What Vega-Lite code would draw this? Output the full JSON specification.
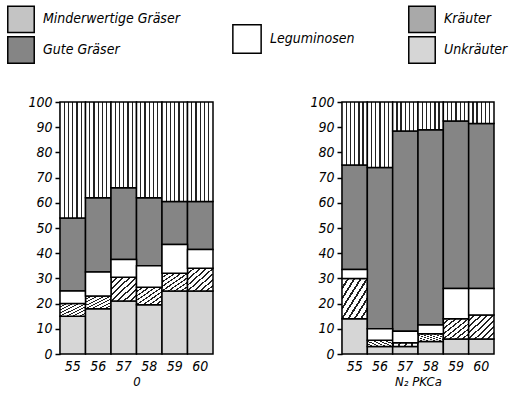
{
  "$schema": "https://vega.github.io/schema/vega-lite/v6.json",
  "background": "white",
  "padding": {"left": 7, "top": 5, "right": 5, "bottom": 5},
  "config": {
    "view": {"stroke": null},
    "font": "DejaVu Sans Condensed",
    "axis": {
      "labelFont": "DejaVu Sans Condensed",
      "labelFontStyle": "italic",
      "labelFontSize": 14,
      "labelColor": "black",
      "domainColor": "black",
      "domainWidth": 1.5,
      "tickColor": "black",
      "tickWidth": 1.5,
      "titleFont": "DejaVu Sans Condensed",
      "titleFontStyle": "italic",
      "titleFontWeight": "normal",
      "titleFontSize": 13,
      "titleColor": "black"
    },
    "legend": {
      "labelFont": "DejaVu Sans Condensed",
      "labelFontStyle": "italic",
      "labelFontSize": 14,
      "labelColor": "black",
      "labelLimit": 300
    }
  },
  "datasets": {
    "d": [
      {"treatment": "0", "year": "55", "category": "Unkräuter", "value": 15},
      {"treatment": "0", "year": "55", "category": "Kräuter", "value": 5},
      {"treatment": "0", "year": "55", "category": "Leguminosen", "value": 5},
      {"treatment": "0", "year": "55", "category": "Gute Gräser", "value": 29},
      {"treatment": "0", "year": "55", "category": "Minderwertige Gräser", "value": 46},
      {"treatment": "0", "year": "56", "category": "Unkräuter", "value": 18},
      {"treatment": "0", "year": "56", "category": "Kräuter", "value": 5},
      {"treatment": "0", "year": "56", "category": "Leguminosen", "value": 9.5},
      {"treatment": "0", "year": "56", "category": "Gute Gräser", "value": 29.5},
      {"treatment": "0", "year": "56", "category": "Minderwertige Gräser", "value": 38},
      {"treatment": "0", "year": "57", "category": "Unkräuter", "value": 21},
      {"treatment": "0", "year": "57", "category": "Kräuter", "value": 9.5},
      {"treatment": "0", "year": "57", "category": "Leguminosen", "value": 7},
      {"treatment": "0", "year": "57", "category": "Gute Gräser", "value": 28.5},
      {"treatment": "0", "year": "57", "category": "Minderwertige Gräser", "value": 34},
      {"treatment": "0", "year": "58", "category": "Unkräuter", "value": 19.5},
      {"treatment": "0", "year": "58", "category": "Kräuter", "value": 7},
      {"treatment": "0", "year": "58", "category": "Leguminosen", "value": 8.5},
      {"treatment": "0", "year": "58", "category": "Gute Gräser", "value": 27},
      {"treatment": "0", "year": "58", "category": "Minderwertige Gräser", "value": 38},
      {"treatment": "0", "year": "59", "category": "Unkräuter", "value": 25},
      {"treatment": "0", "year": "59", "category": "Kräuter", "value": 7},
      {"treatment": "0", "year": "59", "category": "Leguminosen", "value": 11.5},
      {"treatment": "0", "year": "59", "category": "Gute Gräser", "value": 17},
      {"treatment": "0", "year": "59", "category": "Minderwertige Gräser", "value": 39.5},
      {"treatment": "0", "year": "60", "category": "Unkräuter", "value": 25},
      {"treatment": "0", "year": "60", "category": "Kräuter", "value": 9},
      {"treatment": "0", "year": "60", "category": "Leguminosen", "value": 7.5},
      {"treatment": "0", "year": "60", "category": "Gute Gräser", "value": 19},
      {"treatment": "0", "year": "60", "category": "Minderwertige Gräser", "value": 39.5},
      {"treatment": "N", "year": "55", "category": "Unkräuter", "value": 14},
      {"treatment": "N", "year": "55", "category": "Kräuter", "value": 16},
      {"treatment": "N", "year": "55", "category": "Leguminosen", "value": 3.5},
      {"treatment": "N", "year": "55", "category": "Gute Gräser", "value": 41.5},
      {"treatment": "N", "year": "55", "category": "Minderwertige Gräser", "value": 25},
      {"treatment": "N", "year": "56", "category": "Unkräuter", "value": 3},
      {"treatment": "N", "year": "56", "category": "Kräuter", "value": 2.5},
      {"treatment": "N", "year": "56", "category": "Leguminosen", "value": 4.5},
      {"treatment": "N", "year": "56", "category": "Gute Gräser", "value": 64},
      {"treatment": "N", "year": "56", "category": "Minderwertige Gräser", "value": 26},
      {"treatment": "N", "year": "57", "category": "Unkräuter", "value": 3},
      {"treatment": "N", "year": "57", "category": "Kräuter", "value": 1.5},
      {"treatment": "N", "year": "57", "category": "Leguminosen", "value": 4.5},
      {"treatment": "N", "year": "57", "category": "Gute Gräser", "value": 79.5},
      {"treatment": "N", "year": "57", "category": "Minderwertige Gräser", "value": 11.5},
      {"treatment": "N", "year": "58", "category": "Unkräuter", "value": 5},
      {"treatment": "N", "year": "58", "category": "Kräuter", "value": 3},
      {"treatment": "N", "year": "58", "category": "Leguminosen", "value": 3.5},
      {"treatment": "N", "year": "58", "category": "Gute Gräser", "value": 77.5},
      {"treatment": "N", "year": "58", "category": "Minderwertige Gräser", "value": 11},
      {"treatment": "N", "year": "59", "category": "Unkräuter", "value": 6},
      {"treatment": "N", "year": "59", "category": "Kräuter", "value": 8},
      {"treatment": "N", "year": "59", "category": "Leguminosen", "value": 12},
      {"treatment": "N", "year": "59", "category": "Gute Gräser", "value": 66.5},
      {"treatment": "N", "year": "59", "category": "Minderwertige Gräser", "value": 7.5},
      {"treatment": "N", "year": "60", "category": "Unkräuter", "value": 6},
      {"treatment": "N", "year": "60", "category": "Kräuter", "value": 9.5},
      {"treatment": "N", "year": "60", "category": "Leguminosen", "value": 10.5},
      {"treatment": "N", "year": "60", "category": "Gute Gräser", "value": 65.5},
      {"treatment": "N", "year": "60", "category": "Minderwertige Gräser", "value": 8.5}
    ]
  },
  "spacing": 95,
  "hconcat": [
    {
      "width": 153,
      "height": 252,
      "data": {"name": "d"},
      "transform": [
        {"filter": "datum.treatment === '0'"},
        {"calculate": "indexof(['Unkräuter','Kräuter','Leguminosen','Gute Gräser','Minderwertige Gräser'], datum.category)", "as": "ord"},
        {"stack": "value", "groupby": ["year"], "sort": [{"field": "ord", "order": "ascending"}], "as": ["v0", "v1"]}
      ],
      "encoding": {
        "x": {"field": "year", "type": "ordinal", "scale": {"paddingInner": 0, "paddingOuter": 0}, "axis": {"title": "0", "labelAngle": 0, "ticks": false, "domain": false, "labelPadding": 5, "titlePadding": 2}},
        "y": {"field": "v0", "type": "quantitative", "scale": {"domain": [0, 100]}, "axis": {"title": null, "values": [0, 10, 20, 30, 40, 50, 60, 70, 80, 90, 100], "grid": false, "tickSize": 5, "labelPadding": 3}},
        "y2": {"field": "v1"}
      },
      "layer": [
        {
          "transform": [{"filter": "datum.category !== 'Leguminosen'"}],
          "mark": {"type": "bar", "stroke": "black", "strokeWidth": 1.5},
          "encoding": {
            "color": {"field": "category", "type": "nominal",
              "condition": [
                {"test": "(datum.category || datum.value) === 'Minderwertige Gräser'", "value": {"gradient": "linear", "x1": 0, "y1": 0, "x2": 1, "y2": 0, "stops": [
                  {"offset": 0, "color": "#ffffff"},
                  {"offset": 0.142, "color": "#ffffff"}, {"offset": 0.142, "color": "#222222"}, {"offset": 0.192, "color": "#222222"}, {"offset": 0.192, "color": "#ffffff"},
                  {"offset": 0.308, "color": "#ffffff"}, {"offset": 0.308, "color": "#222222"}, {"offset": 0.358, "color": "#222222"}, {"offset": 0.358, "color": "#ffffff"},
                  {"offset": 0.475, "color": "#ffffff"}, {"offset": 0.475, "color": "#222222"}, {"offset": 0.525, "color": "#222222"}, {"offset": 0.525, "color": "#ffffff"},
                  {"offset": 0.642, "color": "#ffffff"}, {"offset": 0.642, "color": "#222222"}, {"offset": 0.692, "color": "#222222"}, {"offset": 0.692, "color": "#ffffff"},
                  {"offset": 0.808, "color": "#ffffff"}, {"offset": 0.808, "color": "#222222"}, {"offset": 0.858, "color": "#222222"}, {"offset": 0.858, "color": "#ffffff"},
                  {"offset": 1, "color": "#ffffff"}
                ]}},
                {"test": "(datum.category || datum.value) === 'Kräuter'", "value": {"gradient": "linear", "x1": 0, "y1": 0, "x2": 1, "y2": 1, "stops": [
                  {"offset": 0, "color": "#ffffff"},
                  {"offset": 0.105, "color": "#ffffff"}, {"offset": 0.105, "color": "#222222"}, {"offset": 0.145, "color": "#222222"}, {"offset": 0.145, "color": "#ffffff"},
                  {"offset": 0.230, "color": "#ffffff"}, {"offset": 0.230, "color": "#222222"}, {"offset": 0.270, "color": "#222222"}, {"offset": 0.270, "color": "#ffffff"},
                  {"offset": 0.355, "color": "#ffffff"}, {"offset": 0.355, "color": "#222222"}, {"offset": 0.395, "color": "#222222"}, {"offset": 0.395, "color": "#ffffff"},
                  {"offset": 0.480, "color": "#ffffff"}, {"offset": 0.480, "color": "#222222"}, {"offset": 0.520, "color": "#222222"}, {"offset": 0.520, "color": "#ffffff"},
                  {"offset": 0.605, "color": "#ffffff"}, {"offset": 0.605, "color": "#222222"}, {"offset": 0.645, "color": "#222222"}, {"offset": 0.645, "color": "#ffffff"},
                  {"offset": 0.730, "color": "#ffffff"}, {"offset": 0.730, "color": "#222222"}, {"offset": 0.770, "color": "#222222"}, {"offset": 0.770, "color": "#ffffff"},
                  {"offset": 0.855, "color": "#ffffff"}, {"offset": 0.855, "color": "#222222"}, {"offset": 0.895, "color": "#222222"}, {"offset": 0.895, "color": "#ffffff"},
                  {"offset": 1, "color": "#ffffff"}
                ]}}
              ],
              "scale": {"domain": ["Minderwertige Gräser", "Gute Gräser", "Kräuter", "Unkräuter"], "range": ["#c4c4c4", "#858585", "#a9a9a9", "#d6d6d6"]},
              "legend": {"orient": "none", "legendX": -53, "legendY": -97, "columns": 2, "columnPadding": 225, "rowPadding": -10, "symbolType": "square", "symbolSize": 700, "symbolStrokeColor": "black", "symbolStrokeWidth": 1.5, "title": null, "labelOffset": 8}}
          }
        },
        {
          "transform": [{"filter": "datum.category === 'Leguminosen'"}],
          "mark": {"type": "bar", "stroke": "black", "strokeWidth": 1.5},
          "encoding": {
            "fill": {"field": "category", "type": "nominal",
              "scale": {"domain": ["Leguminosen"], "range": ["#ffffff"]},
              "legend": {"orient": "none", "legendX": 172, "legendY": -78, "symbolType": "square", "symbolSize": 800, "symbolStrokeColor": "black", "symbolStrokeWidth": 1.5, "title": null, "labelOffset": 8}}
          }
        }
      ]
    },
    {
      "width": 152,
      "height": 252,
      "data": {"name": "d"},
      "transform": [
        {"filter": "datum.treatment === 'N'"},
        {"calculate": "indexof(['Unkräuter','Kräuter','Leguminosen','Gute Gräser','Minderwertige Gräser'], datum.category)", "as": "ord"},
        {"stack": "value", "groupby": ["year"], "sort": [{"field": "ord", "order": "ascending"}], "as": ["v0", "v1"]}
      ],
      "encoding": {
        "x": {"field": "year", "type": "ordinal", "scale": {"paddingInner": 0, "paddingOuter": 0}, "axis": {"title": "N₂ PKCa", "labelAngle": 0, "ticks": false, "domain": false, "labelPadding": 5, "titlePadding": 2}},
        "y": {"field": "v0", "type": "quantitative", "scale": {"domain": [0, 100]}, "axis": {"title": null, "values": [0, 10, 20, 30, 40, 50, 60, 70, 80, 90, 100], "grid": false, "tickSize": 5, "labelPadding": 3}},
        "y2": {"field": "v1"}
      },
      "layer": [
        {
          "transform": [{"filter": "datum.category !== 'Leguminosen'"}],
          "mark": {"type": "bar", "stroke": "black", "strokeWidth": 1.5},
          "encoding": {
            "color": {"field": "category", "type": "nominal",
              "condition": [
                {"test": "(datum.category || datum.value) === 'Minderwertige Gräser'", "value": {"gradient": "linear", "x1": 0, "y1": 0, "x2": 1, "y2": 0, "stops": [
                  {"offset": 0, "color": "#ffffff"},
                  {"offset": 0.142, "color": "#ffffff"}, {"offset": 0.142, "color": "#222222"}, {"offset": 0.192, "color": "#222222"}, {"offset": 0.192, "color": "#ffffff"},
                  {"offset": 0.308, "color": "#ffffff"}, {"offset": 0.308, "color": "#222222"}, {"offset": 0.358, "color": "#222222"}, {"offset": 0.358, "color": "#ffffff"},
                  {"offset": 0.475, "color": "#ffffff"}, {"offset": 0.475, "color": "#222222"}, {"offset": 0.525, "color": "#222222"}, {"offset": 0.525, "color": "#ffffff"},
                  {"offset": 0.642, "color": "#ffffff"}, {"offset": 0.642, "color": "#222222"}, {"offset": 0.692, "color": "#222222"}, {"offset": 0.692, "color": "#ffffff"},
                  {"offset": 0.808, "color": "#ffffff"}, {"offset": 0.808, "color": "#222222"}, {"offset": 0.858, "color": "#222222"}, {"offset": 0.858, "color": "#ffffff"},
                  {"offset": 1, "color": "#ffffff"}
                ]}},
                {"test": "(datum.category || datum.value) === 'Kräuter'", "value": {"gradient": "linear", "x1": 0, "y1": 0, "x2": 1, "y2": 1, "stops": [
                  {"offset": 0, "color": "#ffffff"},
                  {"offset": 0.105, "color": "#ffffff"}, {"offset": 0.105, "color": "#222222"}, {"offset": 0.145, "color": "#222222"}, {"offset": 0.145, "color": "#ffffff"},
                  {"offset": 0.230, "color": "#ffffff"}, {"offset": 0.230, "color": "#222222"}, {"offset": 0.270, "color": "#222222"}, {"offset": 0.270, "color": "#ffffff"},
                  {"offset": 0.355, "color": "#ffffff"}, {"offset": 0.355, "color": "#222222"}, {"offset": 0.395, "color": "#222222"}, {"offset": 0.395, "color": "#ffffff"},
                  {"offset": 0.480, "color": "#ffffff"}, {"offset": 0.480, "color": "#222222"}, {"offset": 0.520, "color": "#222222"}, {"offset": 0.520, "color": "#ffffff"},
                  {"offset": 0.605, "color": "#ffffff"}, {"offset": 0.605, "color": "#222222"}, {"offset": 0.645, "color": "#222222"}, {"offset": 0.645, "color": "#ffffff"},
                  {"offset": 0.730, "color": "#ffffff"}, {"offset": 0.730, "color": "#222222"}, {"offset": 0.770, "color": "#222222"}, {"offset": 0.770, "color": "#ffffff"},
                  {"offset": 0.855, "color": "#ffffff"}, {"offset": 0.855, "color": "#222222"}, {"offset": 0.895, "color": "#222222"}, {"offset": 0.895, "color": "#ffffff"},
                  {"offset": 1, "color": "#ffffff"}
                ]}}
              ],
              "scale": {"domain": ["Minderwertige Gräser", "Gute Gräser", "Kräuter", "Unkräuter"], "range": ["#c4c4c4", "#858585", "#a9a9a9", "#d6d6d6"]},
              "legend": {"orient": "none", "legendX": -53, "legendY": -97, "columns": 2, "columnPadding": 225, "rowPadding": -10, "symbolType": "square", "symbolSize": 700, "symbolStrokeColor": "black", "symbolStrokeWidth": 1.5, "title": null, "labelOffset": 8}}
          }
        },
        {
          "transform": [{"filter": "datum.category === 'Leguminosen'"}],
          "mark": {"type": "bar", "stroke": "black", "strokeWidth": 1.5},
          "encoding": {
            "fill": {"field": "category", "type": "nominal",
              "scale": {"domain": ["Leguminosen"], "range": ["#ffffff"]},
              "legend": {"orient": "none", "legendX": 172, "legendY": -78, "symbolType": "square", "symbolSize": 800, "symbolStrokeColor": "black", "symbolStrokeWidth": 1.5, "title": null, "labelOffset": 8}}
          }
        }
      ]
    }
  ]
}
